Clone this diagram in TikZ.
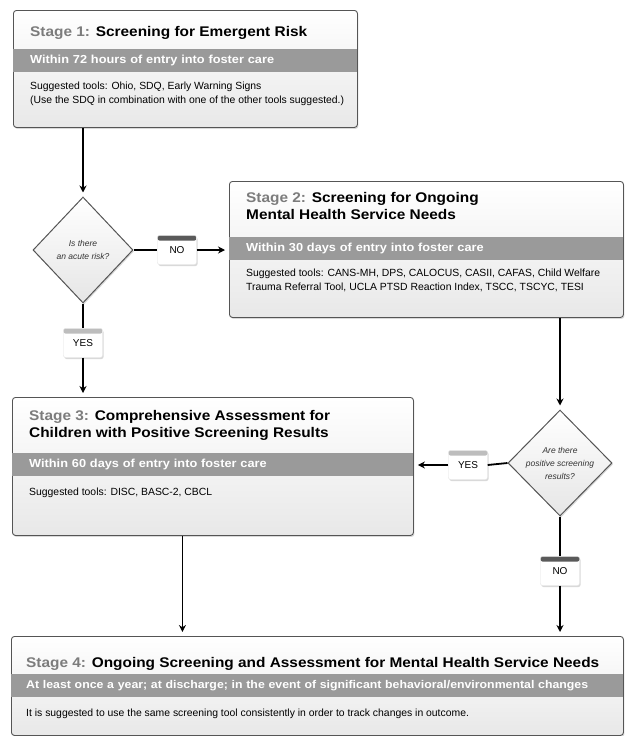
\documentclass[tikz,border=0pt]{standalone}
\usepackage{fontspec}
\setmainfont{Liberation Sans}
\newfontfamily\headfont[FakeStretch=1.1]{Liberation Sans}
\usetikzlibrary{shapes.geometric,shadows,arrows.meta,calc}

\definecolor{bandgray}{HTML}{9A9A9A}
\definecolor{stagegray}{HTML}{7C7C7C}
\definecolor{framegray}{HTML}{555555}
\definecolor{capdark}{HTML}{5A5A5A}
\definecolor{caplight}{HTML}{BDBDBD}

\tikzset{
  softshadow/.style={drop shadow={opacity=0.3, shadow xshift=1pt, shadow yshift=-1.5pt}},
  stagebox/.style={draw=framegray, line width=0.9pt, rounded corners=3pt, top color=white, bottom color=black!9, softshadow, anchor=north west, inner sep=0pt},
  band/.style={fill=bandgray, text=white, font=\headfont\bfseries\fontsize{11.6}{14}\selectfont, anchor=north west, minimum height=23pt, inner xsep=17pt, inner ysep=0pt, align=left},
  head/.style={anchor=north west, font=\headfont\bfseries\fontsize{14}{17}\selectfont, align=left, inner sep=0pt},
  body/.style={anchor=north west, font=\fontsize{10.4}{13.5}\selectfont, align=left, inner sep=0pt},
  decision/.style={diamond, draw=framegray, line width=1pt, top color=white, bottom color=black!10, softshadow, minimum width=100pt, minimum height=106pt, inner sep=0pt, align=center, font=\itshape\fontsize{8.5}{13}\selectfont, text=black!80},
  tag/.style={rectangle, rounded corners=2pt, fill=white, draw=black!12, softshadow, minimum width=39pt, minimum height=29pt, inner sep=0pt, font=\fontsize{10}{11}\selectfont, path picture={\fill[#1] (path picture bounding box.north west) rectangle ([yshift=-5pt]path picture bounding box.north east);}},
  flow/.style={line width=1.8pt, -{Stealth[length=7pt,width=7pt]}, shorten >=4pt},
  link/.style={line width=1.8pt}
}

\begin{document}
\begin{tikzpicture}[x=1pt, y=-1pt]
	\useasboundingbox (0,0) rectangle (625,736);
	% stage boxes
	\node[stagebox, minimum width=344pt, minimum height=117pt] (s1) at (13,10) {};
	\node[band, text width=310pt] (s1band) at ([yshift=-39pt]s1.north west) {Within 72 hours of entry into foster care};
	\node[head] (s1head) at ([xshift=17pt, yshift=-16pt]s1.north west) {{\color{stagegray}Stage 1:} Screening for Emergent Risk};
	\node[body] (s1body) at ([xshift=17pt, yshift=-72pt]s1.north west) {Suggested tools: Ohio, SDQ, Early Warning Signs\\(Use the SDQ in combination with one of the other tools suggested.)};

	\node[stagebox, minimum width=394pt, minimum height=136pt] (s2) at (229,181) {};
	\node[band, text width=360pt] (s2band) at ([yshift=-56pt]s2.north west) {Within 30 days of entry into foster care};
	\node[head] (s2head) at ([xshift=17pt, yshift=-11pt]s2.north west) {{\color{stagegray}Stage 2:} Screening for Ongoing\\Mental Health Service Needs};
	\node[body] (s2body) at ([xshift=17pt, yshift=-88pt]s2.north west) {Suggested tools: CANS-MH, DPS, CALOCUS, CASII, CAFAS, Child Welfare\\Trauma Referral Tool, UCLA PTSD Reaction Index, TSCC, TSCYC, TESI};

	\node[stagebox, minimum width=401pt, minimum height=138pt] (s3) at (12,397) {};
	\node[band, text width=367pt] (s3band) at ([yshift=-56pt]s3.north west) {Within 60 days of entry into foster care};
	\node[head] (s3head) at ([xshift=17pt, yshift=-13pt]s3.north west) {{\color{stagegray}Stage 3:} Comprehensive Assessment for\\Children with Positive Screening Results};
	\node[body] (s3body) at ([xshift=17pt, yshift=-91pt]s3.north west) {Suggested tools: DISC, BASC-2, CBCL};

	\node[stagebox, minimum width=612pt, minimum height=99pt] (s4) at (11,636) {};
	\node[band, text width=582pt, inner xsep=15pt, font=\headfont\bfseries\fontsize{11.2}{14}\selectfont] (s4band) at ([yshift=-38pt]s4.north west) {At least once a year; at discharge; in the event of significant behavioral/environmental changes};
	\node[head] (s4head) at ([xshift=15pt, yshift=-21pt]s4.north west) {{\color{stagegray}Stage 4:} Ongoing Screening and Assessment for Mental Health Service Needs};
	\node[body] (s4body) at ([xshift=15pt, yshift=-73pt]s4.north west) {It is suggested to use the same screening tool consistently in order to track changes in outcome.};

	% decisions
	\node[decision] (d1) at (83,250) {Is there\\an acute risk?};
	\node[decision, minimum width=104pt] (d2) at (560,463) {Are there\\positive screening\\results?};

	% yes / no tags
	\node[tag=capdark] (no1) at (177,250) {\raisebox{-2pt}{NO}};
	\node[tag=caplight] (yes1) at (83,343) {\raisebox{-2pt}{YES}};
	\node[tag=caplight] (yes2) at (468,465) {\raisebox{-2pt}{YES}};
	\node[tag=capdark] (no2) at (560,571) {\raisebox{-2pt}{NO}};
	\coordinate (s3out) at ($(s3.south west)!0.424!(s3.south east)$);

	% connectors
	\draw[flow] (d1.north |- s1.south) -- (d1.north);
	\draw[link] (d1.east) -- (no1.west);
	\draw[flow] (no1.east) -- (s2.west |- no1.east);
	\draw[link] (d1.south) -- (yes1.north);
	\draw[flow] (yes1.south) -- (yes1.south |- s3.north);
	\draw[flow] (d2.north |- s2.south) -- (d2.north);
	\draw[link] (d2.west) -- (yes2.east);
	\draw[flow] (yes2.west) -- (s3.east |- yes2.west);
	\draw[link] (d2.south) -- (no2.north);
	\draw[flow] (no2.south) -- (no2.south |- s4.north);
	\draw[flow] (s3out) -- (s3out |- s4.north);
\end{tikzpicture}
\end{document}
